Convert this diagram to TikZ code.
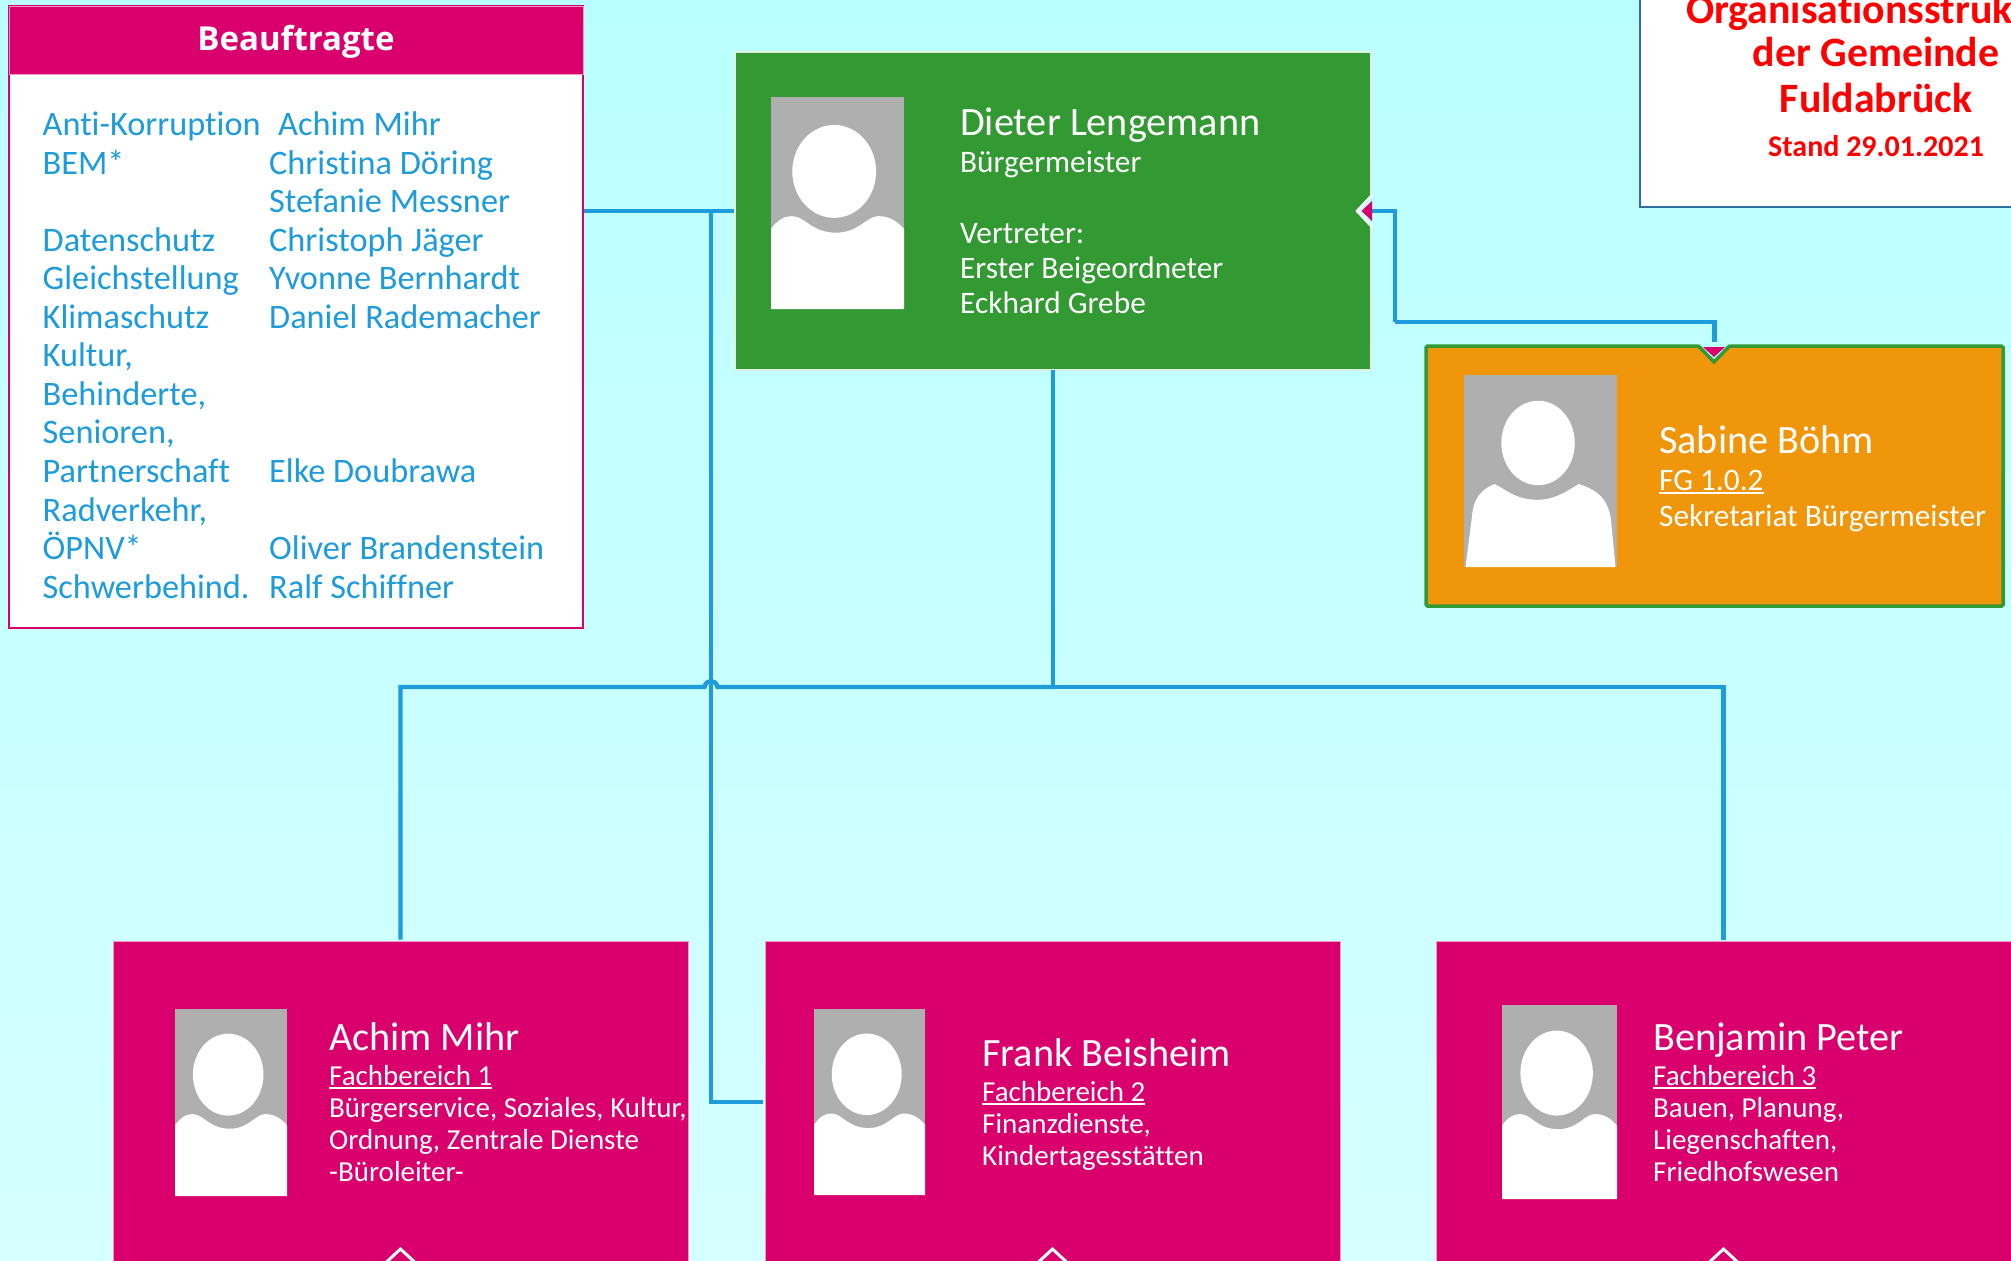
\documentclass[tikz,border=0pt]{standalone}
\usepackage{fontspec}
\setmainfont{Carlito}[Ligatures={NoCommon,TeX}]
\newfontfamily\headfont{Open Sans}
\usetikzlibrary{calc}
\definecolor{bgtop}{HTML}{BAFFFF}
\definecolor{bgbot}{HTML}{D6FFFF}
\definecolor{lineblue}{HTML}{1E9BDB}
\definecolor{pinkc}{HTML}{D9006E}
\definecolor{greenc}{HTML}{339933}
\definecolor{orangec}{HTML}{F0960A}
\definecolor{grayc}{HTML}{AFAFAF}
\definecolor{titleline}{HTML}{2F6F9F}
\newcommand{\ulfg}[1]{\setbox0=\hbox{#1}\rlap{\rule[-3.5pt]{\wd0}{1.6pt}}\box0}
\newcommand{\lbl}[5][psub]{\node[#1] (#2) at (#3,#4) {#5};}
% \photo{name}{x}{y}{w}{h}
\newcommand{\photo}[5]{%
  \node[photobox,minimum width=#4,minimum height=#5] (#1) at (#2,#3) {};
  \begin{scope}[shift={(#2,#3)},x=#4pt,y=-#5pt]
    \fill[white] (.475,.351) ellipse [x radius=.315,y radius=.219];
    \fill[white] (0,1) -- (0,.622) .. controls (.05,.58) and (.1,.562) .. (.155,.562)
      .. controls (.26,.562) and (.3,.64) .. (.49,.64)
      .. controls (.66,.64) and (.72,.562) .. (.805,.562)
      .. controls (.88,.562) and (.94,.58) .. (1,.622) -- (1,1) -- cycle;
  \end{scope}}
\tikzset{
  boxbase/.style={rectangle,inner sep=0pt,outer sep=0pt},
  greenbox/.style={boxbase,fill=greenc,draw=white!85!greenc,line width=1.2pt,minimum width=636,minimum height=318},
  pinkbox/.style={boxbase,fill=pinkc,draw=white!60!pinkc,line width=1pt,minimum width=575,minimum height=322},
  orangebox/.style={boxbase,fill=orangec,draw=greenc,line width=3.5pt,rounded corners=1.5pt,minimum width=577,minimum height=260},
  photobox/.style={boxbase,fill=grayc,anchor=north west},
  pname/.style={anchor=base west,inner sep=0pt,text=white,font=\fontsize{40.2}{44}\selectfont},
  psub/.style={anchor=base west,inner sep=0pt,text=white,font=\fontsize{29}{34}\selectfont},
  ptop/.style={anchor=base west,inner sep=0pt,text=white,font=\fontsize{31.3}{36}\selectfont},
  blist/.style={anchor=base west,inner sep=0pt,text=lineblue,yshift=-1pt,font=\fontsize{34.3}{38}\selectfont},
  titlea/.style={anchor=base,inner sep=0pt,text=red,font=\bfseries\fontsize{41.8}{46}\selectfont},
  titleb/.style={anchor=base,inner sep=0pt,text=red,font=\bfseries\fontsize{30}{34}\selectfont},
  link/.style={draw=lineblue,line width=4.4pt,line join=miter},
  chev/.style={draw=bgbot!70!white,line width=3pt,line join=miter},
}
\begin{document}
\begin{tikzpicture}[x=1pt,y=-1pt]
\useasboundingbox (0,0) rectangle (2011,1261);
\clip (0,0) rectangle (2011,1261);
\shade[top color=bgtop,bottom color=bgbot] (0,0) rectangle (2011,1261);

% Beauftragte panel
\node[boxbase,fill=white,draw=pinkc,line width=1.2pt,minimum width=574,minimum height=622] (beauf) at (296,317) {};
\node[boxbase,fill=pinkc,draw=white!60!pinkc,line width=1pt,minimum width=574,minimum height=68] (beaufhead) at (296,40) {};
\node[anchor=base,inner sep=0pt,text=white,font=\headfont\bfseries\fontsize{33}{38}\selectfont] (beauftitle) at (296,50) {Beauftragte};
\lbl[blist]{b1}{42.5}{134.5}{Anti-Korruption}
\lbl[blist]{c1}{278}{134.5}{Achim Mihr}
\lbl[blist]{b2}{42.5}{173}{BEM*}
\lbl[blist]{c2}{269}{173}{Christina Döring}
\lbl[blist]{c3}{269}{211.5}{Stefanie Messner}
\lbl[blist]{b4}{42.5}{250}{Datenschutz}
\lbl[blist]{c4}{269}{250}{Christoph Jäger}
\lbl[blist]{b5}{42.5}{288}{Gleichstellung}
\lbl[blist]{c5}{269}{288}{Yvonne Bernhardt}
\lbl[blist]{b6}{42.5}{327}{Klimaschutz}
\lbl[blist]{c6}{269}{327}{Daniel Rademacher}
\lbl[blist]{b7}{42.5}{365}{Kultur,}
\lbl[blist]{b8}{42.5}{404}{Behinderte,}
\lbl[blist]{b9}{42.5}{442}{Senioren,}
\lbl[blist]{b10}{42.5}{481}{Partnerschaft}
\lbl[blist]{c10}{269}{481}{Elke Doubrawa}
\lbl[blist]{b11}{42.5}{520}{Radverkehr,}
\lbl[blist]{b12}{42.5}{558}{ÖPNV*}
\lbl[blist]{c12}{269}{558}{Oliver Brandenstein}
\lbl[blist]{b13}{42.5}{597}{Schwerbehind.}
\lbl[blist]{c13}{269}{597}{Ralf Schiffner}

% Title panel
\node[boxbase,fill=white,draw=titleline,line width=1.4pt,minimum width=420,minimum height=267] (titlebox) at (1850,73.5) {};
\lbl[titlea]{t1}{1875}{23}{Organisationsstruktur}
\lbl[titlea]{t2}{1876}{66}{der Gemeinde}
\lbl[titlea]{t3}{1876}{112.5}{Fuldabrück}
\lbl[titleb]{t4}{1876}{156}{Stand 29.01.2021}

% Person boxes
\node[greenbox] (chief) at (1053,211) {};
\node[orangebox] (sek) at (1714.5,476) {};
\node[pinkbox] (fb1) at (400.5,1102) {};
\node[pinkbox] (fb2) at (1052.5,1102) {};
\node[pinkbox] (fb3) at (1723.5,1102) {};

% Connectors
\coordinate (branch) at (711,211);
\coordinate (bus) at (1053,687);
\coordinate (hopL) at (704.5,687);
\coordinate (hopR) at (717.5,687);
\coordinate (elbowA) at (1395,211);
\coordinate (elbowB) at (1395,322);
\draw[link,shorten <=1pt,shorten >=1.5pt] (chief.west -| beauf.east) -- (chief.west);
\draw[link,shorten >=2pt] (branch) |- (fb2.west);
\draw[link,shorten >=1.5pt] (chief.south) -- (bus);
\draw[link,shorten <=1.5pt] (fb1.north) |- (hopL) .. controls (706,679) and (716,679) .. (hopR) -- (bus);
\draw[link,shorten >=1.5pt] (bus) -| (fb3.north);

% Notch on the right edge of the green box
\fill[bgtop] (1371,195) -- (1356,211) -- (1371,227) -- (1373,227) -- (1373,195) -- cycle;
\draw[draw=white,line width=2.5pt,line join=miter] (1372,195) -- (1357,211) -- (1372,227);
\draw[link] (elbowB) -- (elbowA) -- ([xshift=-4pt]chief.east);
\fill[pinkc] (1372,201) -- (1361.5,211) -- (1372,221) -- cycle;

% Notch on the top edge of the orange box
\fill[bgtop] (1698,344) -- (1714,364) -- (1730,344) -- cycle;
\draw[draw=greenc,line width=3.5pt,line join=miter] (1698,345.5) -- (1714,362) -- (1730,345.5);
\draw[link] (elbowB) -| ([yshift=4pt]sek.north);
\fill[pinkc] (1703,347) -- (1714,357) -- (1725,347) -- cycle;

% Chevrons at the bottom of the pink boxes
\draw[chev] ([shift={(-14,-1)}]fb1.south) -- ([shift={(0,-14)}]fb1.south) -- ([shift={(14,-1)}]fb1.south);
\draw[chev] ([shift={(-14,-1)}]fb2.south) -- ([shift={(0,-14)}]fb2.south) -- ([shift={(14,-1)}]fb2.south);
\draw[chev] ([shift={(-14,-1)}]fb3.south) -- ([shift={(0,-14)}]fb3.south) -- ([shift={(14,-1)}]fb3.south);

% Photos
\photo{ph0}{771}{97}{133}{212}
\node[photobox,minimum width=153,minimum height=192] (ph1) at (1464,375) {};
\begin{scope}[shift={(1464,375)},x=153pt,y=-192pt]
  \fill[white] (.484,.354) ellipse [x radius=.24,y radius=.22];
  \fill[white] (.01,1) -- (.05,.75) .. controls (.06,.65) and (.1,.6) .. (.2,.568)
    .. controls (.28,.6) and (.34,.65) .. (.48,.65)
    .. controls (.6,.65) and (.68,.6) .. (.75,.568)
    .. controls (.88,.6) and (.94,.65) .. (.96,.75) -- (.99,1) -- cycle;
\end{scope}
\photo{ph2}{175}{1009}{112}{187}
\photo{ph3}{814}{1009}{111}{186}
\photo{ph4}{1502}{1005}{115}{194}

% Person texts
\lbl[pname]{n0}{960}{135}{Dieter Lengemann}
\lbl[ptop]{s01}{960}{172}{Bürgermeister}
\lbl[ptop]{s02}{960}{243}{Vertreter:}
\lbl[ptop]{s03}{960}{278}{Erster Beigeordneter}
\lbl[ptop]{s04}{960}{313}{Eckhard Grebe}

\lbl[pname]{n1}{1659}{453}{Sabine Böhm}
\lbl[ptop]{s11}{1659}{490}{\ulfg{FG 1.0.2}}
\lbl[ptop]{s12}{1659}{526}{Sekretariat Bürgermeister}

\lbl[pname]{n2}{329}{1050}{Achim Mihr}
\lbl{s21}{329}{1085}{\ulfg{Fachbereich 1}}
\lbl{s22}{329}{1117}{Bürgerservice, Soziales, Kultur,}
\lbl{s23}{329}{1149}{Ordnung, Zentrale Dienste}
\lbl{s24}{329}{1181}{-Büroleiter-}

\lbl[pname]{n3}{982}{1066}{Frank Beisheim}
\lbl{s31}{982}{1101}{\ulfg{Fachbereich 2}}
\lbl{s32}{982}{1133}{Finanzdienste,}
\lbl{s33}{982}{1165}{Kindertagesstätten}

\lbl[pname]{n4}{1653}{1050}{Benjamin Peter}
\lbl{s41}{1653}{1085}{\ulfg{Fachbereich 3}}
\lbl{s42}{1653}{1117}{Bauen, Planung,}
\lbl{s43}{1653}{1149}{Liegenschaften,}
\lbl{s44}{1653}{1181}{Friedhofswesen}
\end{tikzpicture}
\end{document}
